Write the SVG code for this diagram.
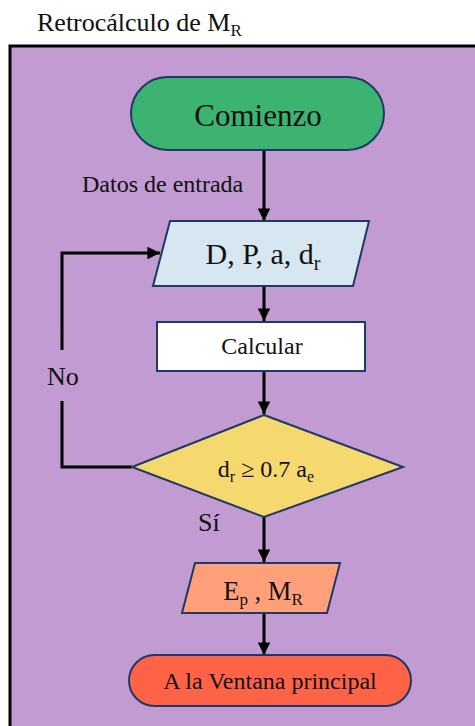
<svg xmlns="http://www.w3.org/2000/svg" width="475" height="726" viewBox="0 0 475 726" font-family="'Liberation Serif', 'Times New Roman', serif">
  <defs>
    <marker id="arrow" viewBox="0 0 10 10" refX="10" refY="5" markerWidth="4.2" markerHeight="4.2" orient="auto" markerUnits="strokeWidth">
      <path d="M0,0 L10,5 L0,10 z" fill="#000"/>
    </marker>
    <style>
      text { font-family: "Liberation Serif", "Times New Roman", serif; fill: #111; }
      .shape { stroke: #1F3864; stroke-width: 2; }
      .conn { fill: none; stroke: #000; stroke-width: 3; }
      .arr { marker-end: url(#arrow); }
    </style>
  </defs>

  <rect width="475" height="726" fill="#ffffff"/>

  <!-- title -->
  <text x="37" y="31" font-size="26">Retrocálculo de M<tspan font-size="17" dy="5">R</tspan></text>

  <!-- frame -->
  <rect x="10" y="46" width="480" height="700" fill="#C39BD3" stroke="#000" stroke-width="3"/>

  <!-- connectors -->
  <g id="connectors">
    <line class="conn arr" x1="264" y1="150" x2="264" y2="221"/>
    <line class="conn arr" x1="264" y1="286" x2="264" y2="321"/>
    <line class="conn arr" x1="264" y1="371" x2="264" y2="414"/>
    <line class="conn arr" x1="264" y1="517" x2="264" y2="562"/>
    <line class="conn arr" x1="264" y1="613" x2="264" y2="655"/>
    <polyline class="conn" points="132,467 62,467 62,401"/>
    <polyline class="conn arr" points="62,350 62,253 160,253"/>
    <text x="82" y="192" font-size="24">Datos de entrada</text>
    <text x="47" y="385" font-size="26">No</text>
    <text x="198" y="531" font-size="26">Sí</text>
  </g>

  <g id="start">
    <rect class="shape" x="131" y="77" width="253" height="73" rx="36.5" fill="#3CB371"/>
    <text x="258" y="126" font-size="31" text-anchor="middle">Comienzo</text>
  </g>

  <g id="input">
    <polygon class="shape" points="170,221 369,221 353,286 153,286" fill="#D6E7F2"/>
    <text x="263" y="264" font-size="30" text-anchor="middle">D, P, a, d<tspan font-size="20" dy="6">r</tspan></text>
  </g>

  <g id="calc">
    <rect class="shape" x="157" y="322" width="208" height="49" fill="#ffffff"/>
    <text x="262" y="354" font-size="24" text-anchor="middle">Calcular</text>
  </g>

  <g id="check">
    <polygon class="shape" points="264,415 403,467 264,517 132,467" fill="#F5D96F"/>
    <text x="266" y="477" font-size="24" text-anchor="middle">d<tspan font-size="16" dy="5">r</tspan><tspan dy="-5"> ≥ 0.7 a</tspan><tspan font-size="16" dy="5">e</tspan></text>
  </g>

  <g id="output">
    <polygon class="shape" points="195,563 340,563 327,613 182,613" fill="#FFA07A"/>
    <text x="263" y="600" font-size="26.5" text-anchor="middle">E<tspan font-size="17" dy="5">p</tspan><tspan dy="-5"> , M</tspan><tspan font-size="17" dy="5">R</tspan></text>
  </g>

  <g id="end">
    <rect class="shape" x="129" y="655" width="282" height="51" rx="25.5" fill="#FF6347"/>
    <text x="270" y="689" font-size="24" text-anchor="middle">A la Ventana principal</text>
  </g>
</svg>
